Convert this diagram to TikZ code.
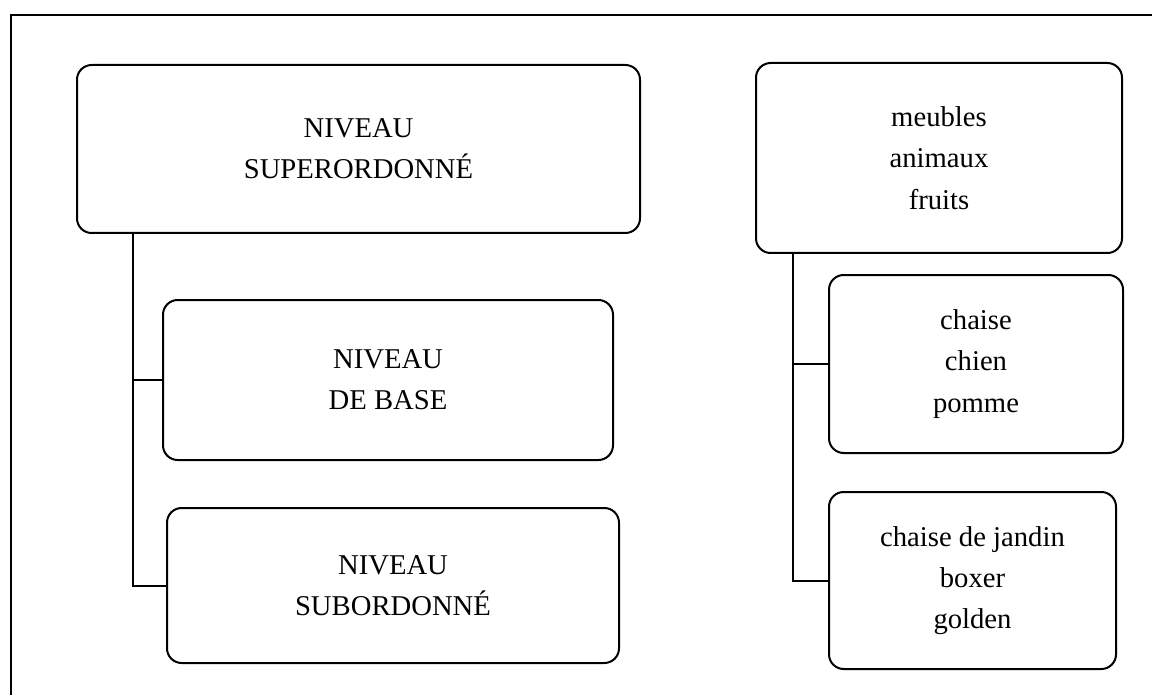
\documentclass[tikz,border=0pt]{standalone}
\usepackage{fontspec}
\setmainfont{Liberation Serif}
\begin{document}
\begin{tikzpicture}[x=0.75pt,y=-0.75pt,
  box/.style={draw, line width=1.5pt, rounded corners=11pt, align=center, inner sep=0pt,
    font=\fontsize{21.5pt}{31pt}\selectfont},
  conn/.style={line width=1.4pt}]
\path[use as bounding box] (0,0) rectangle (1152,695);
\clip (0,0) rectangle (1152,695);
\draw[line width=1.5pt] (11,15.5) rectangle (1170,720);
% left column
\node[box, minimum width={563*0.75pt}, minimum height={168*0.75pt}] (b1) at (358.5,149) {NIVEAU\\SUPERORDONNÉ};
\node[box, minimum width={450*0.75pt}, minimum height={160*0.75pt}] (b2) at (388,380) {NIVEAU\\DE BASE};
\node[box, minimum width={452*0.75pt}, minimum height={155*0.75pt}] (b3) at (393,585.5) {NIVEAU\\SUBORDONNÉ};
% right column
\node[box, minimum width={366*0.75pt}, minimum height={190*0.75pt}] (bA) at (939,158) {meubles\\animaux\\fruits};
\node[box, minimum width={294*0.75pt}, minimum height={178*0.75pt}] (bB) at (976,364) {chaise\\chien\\pomme};
\node[box, minimum width={287*0.75pt}, minimum height={177*0.75pt}] (bC) at (972.5,580.5) {chaise de jandin\\boxer\\golden};
% connectors
\coordinate (jL) at (133,586);
\coordinate (jR) at (793,581);
\draw[conn] (b1.south -| jL) -- (jL) -- (jL -| b3.west);
\draw[conn] (b2.west) -- (b2.west -| jL);
\draw[conn] (bA.south -| jR) -- (jR) -- (jR -| bC.west);
\draw[conn] (bB.west) -- (bB.west -| jR);
\end{tikzpicture}
\end{document}
